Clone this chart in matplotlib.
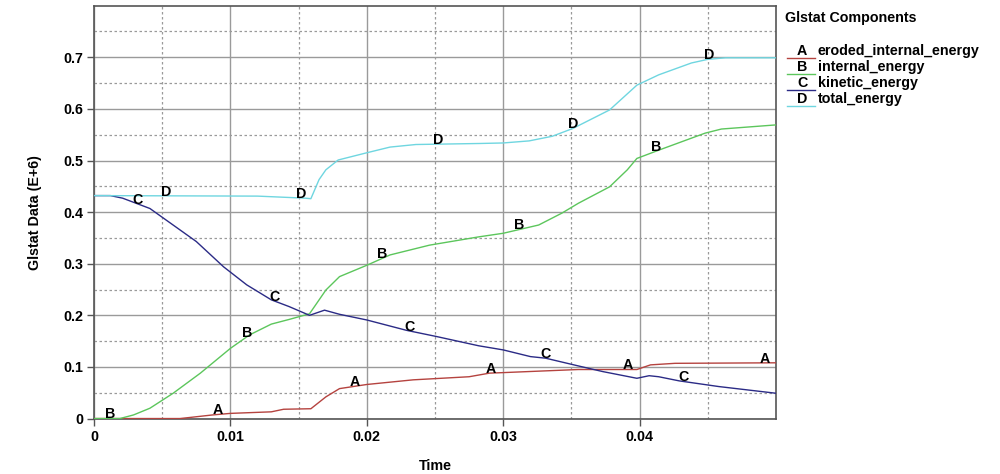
import numpy as np
import matplotlib
matplotlib.use("Agg")
import matplotlib.pyplot as plt
from matplotlib.lines import Line2D

plt.rcParams['font.family'] = ['Liberation Sans', 'DejaVu Sans']

# eroded_internal_energy (A)
t_a = [0, 0.0063, 0.007, 0.0087, 0.010, 0.013, 0.0139, 0.0159, 0.017, 0.018, 0.020,
       0.0234, 0.0275, 0.029, 0.030, 0.0355, 0.0373, 0.0398, 0.0408, 0.0426, 0.050]
e_a = [0, 0, 0.002, 0.007, 0.010, 0.013, 0.018, 0.019, 0.042, 0.058, 0.066,
       0.075, 0.081, 0.088, 0.089, 0.095, 0.095, 0.095, 0.104, 0.107, 0.108]

# internal_energy (B)
t_b = [0, 0.0019, 0.0029, 0.0041, 0.0058, 0.0078, 0.010, 0.0114, 0.013, 0.0143, 0.0158,
       0.017, 0.018, 0.020, 0.0217, 0.0246, 0.0282, 0.030, 0.0326, 0.0343, 0.0355,
       0.0378, 0.0391, 0.0398, 0.0414, 0.0448, 0.046, 0.050]
e_b = [0, 0, 0.007, 0.020, 0.049, 0.088, 0.136, 0.162, 0.183, 0.192, 0.203,
       0.249, 0.275, 0.297, 0.317, 0.336, 0.352, 0.359, 0.375, 0.398, 0.417,
       0.449, 0.482, 0.504, 0.520, 0.553, 0.561, 0.569]

# kinetic_energy (C)
t_c = [0, 0.0012, 0.0021, 0.0041, 0.0058, 0.0075, 0.0095, 0.0112, 0.013, 0.0143, 0.0158,
       0.0169, 0.018, 0.020, 0.0229, 0.0251, 0.0282, 0.030, 0.032, 0.0331, 0.0355,
       0.0373, 0.0398, 0.0407, 0.0414, 0.0429, 0.0458, 0.050]
e_c = [0.432, 0.432, 0.427, 0.407, 0.375, 0.343, 0.294, 0.259, 0.230, 0.217, 0.200,
       0.210, 0.202, 0.191, 0.171, 0.159, 0.141, 0.133, 0.120, 0.117, 0.102,
       0.091, 0.078, 0.083, 0.081, 0.073, 0.062, 0.049]

# total_energy (D)
t_d = [0, 0.012, 0.0155, 0.0159, 0.0165, 0.017, 0.0179, 0.020, 0.0217, 0.0236, 0.0283,
       0.030, 0.0319, 0.0336, 0.0351, 0.0378, 0.0398, 0.0414, 0.0438, 0.045, 0.0463, 0.050]
e_d = [0.432, 0.431, 0.427, 0.426, 0.463, 0.482, 0.501, 0.515, 0.526, 0.531, 0.533,
       0.534, 0.538, 0.547, 0.562, 0.598, 0.646, 0.666, 0.689, 0.696, 0.699, 0.699]

# where the curve letters sit
lab_a = [0.0091, 0.0191, 0.0291, 0.0391, 0.0492]
lab_b = [0.0012, 0.0112, 0.0211, 0.0312, 0.0412]
lab_c = [0.0032, 0.0132, 0.0231, 0.0331, 0.0432]
lab_d = [0.0053, 0.0152, 0.0252, 0.0351, 0.0451]

letters = ['A', 'B', 'C', 'D']
names = ['eroded_internal_energy', 'internal_energy', 'kinetic_energy', 'total_energy']
colors = ['#b5433f', '#5cc65c', '#2b2b86', '#6fd6e0']
series = [(t_a, e_a, lab_a), (t_b, e_b, lab_b), (t_c, e_c, lab_c), (t_d, e_d, lab_d)]

x_ticks = [0, 0.01, 0.02, 0.03, 0.04]
x_ticklabels = ['0', '0.01', '0.02', '0.03', '0.04']
y_ticks = [0, 0.1, 0.2, 0.3, 0.4, 0.5, 0.6, 0.7]
y_ticklabels = ['0', '0.1', '0.2', '0.3', '0.4', '0.5', '0.6', '0.7']

FS = 10.3

fig = plt.figure(figsize=(10, 4.74), dpi=100)
ax = fig.add_axes([0.094, 0.117, 0.682, 0.871])

for (t, v, labs), letter, col in zip(series, letters, colors):
    ax.plot(t, v, color=col, lw=1.0, zorder=3)
    for lx in labs:
        ly = np.interp(lx, t, v)
        ax.annotate(letter, (lx, ly), xytext=(0, 3), textcoords='offset points',
                    ha='center', va='center', fontsize=FS, fontweight='bold',
                    color='black', zorder=4)

ax.set_xlim(0, 0.05)
ax.set_ylim(0, 0.8)
ax.set_xticks(x_ticks)
ax.set_xticklabels(x_ticklabels, fontsize=FS, fontweight='bold')
ax.set_yticks(y_ticks)
ax.set_yticklabels(y_ticklabels, fontsize=FS, fontweight='bold')
ax.set_xticks(np.arange(0.005, 0.05, 0.01), minor=True)
ax.set_yticks(np.arange(0.05, 0.8, 0.1), minor=True)
ax.grid(which='major', color='#9a9a9a', lw=1.0, ls='-', zorder=1)
ax.grid(which='minor', color='#9a9a9a', lw=0.9, ls=(0, (2, 2)), zorder=1)
ax.tick_params(which='major', direction='out', length=5, width=1, color='#555555', pad=3)
ax.tick_params(which='minor', length=0)
for s in ax.spines.values():
    s.set_color('#555555')
    s.set_linewidth(1.2)

ax.set_xlabel('Time', fontsize=FS, fontweight='bold', labelpad=11)
ax.set_ylabel('Glstat Data (E+6)', fontsize=FS, fontweight='bold', labelpad=15)

# legend block on the right
fig.text(0.785, 0.962, 'Glstat Components', fontsize=FS, fontweight='bold', va='center', ha='left')
for i, (letter, name, col) in enumerate(zip(letters, names, colors)):
    yc = 0.893 - i * 0.0338
    fig.text(0.802, yc, letter, fontsize=FS, fontweight='bold', va='center', ha='center')
    fig.text(0.818, yc, name, fontsize=FS, fontweight='bold', va='center', ha='left')
    fig.add_artist(Line2D([0.787, 0.815], [yc - 0.015, yc - 0.015], color=col, lw=1.0,
                          transform=fig.transFigure))

fig.savefig('out.png', dpi=100, facecolor='white')
